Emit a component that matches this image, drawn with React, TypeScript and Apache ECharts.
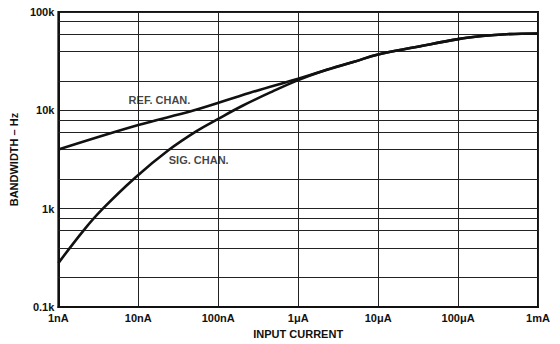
import React, { useEffect, useRef } from "react";
import * as echarts from "echarts";

const xTickLabels: Record<string, string> = {
  "-9": "1nA",
  "-8": "10nA",
  "-7": "100nA",
  "-6": "1\u03bcA",
  "-5": "10\u03bcA",
  "-4": "100\u03bcA",
  "-3": "1mA",
};
const yTickLabels: Record<string, string> = {
  "2": "0.1k",
  "3": "1k",
  "4": "10k",
  "5": "100k",
};

// input current (A) and bandwidth (Hz)
const refCurrent = [1e-9, 1e-8, 5e-8, 2.5e-7, 1e-6, 2e-6, 5e-6, 1e-5, 3e-5, 1e-4, 2e-4, 4e-4, 1e-3];
const refBandwidth = [4000, 7100, 10000, 15100, 21000, 25000, 31200, 37000, 44000, 53000, 57000, 59500, 60500];

const sigCurrent = [1e-9, 2.06e-9, 3.55e-9, 9.2e-9, 2.4e-8, 5.35e-8, 1e-7, 2.04e-7, 4.8e-7, 1e-6, 2e-6, 5e-6, 1e-5, 3e-5, 1e-4, 2e-4, 4e-4, 1e-3];
const sigBandwidth = [280, 600, 990, 2080, 3950, 6150, 8200, 11200, 15600, 20300, 25000, 31200, 37000, 44000, 53000, 57000, 59500, 60500];

const minorGridValues = [
  200, 400, 600, 800,
  2000, 4000, 6000, 8000,
  20000, 40000, 60000, 80000,
];

const annotations = [
  { name: "REF. CHAN.", x: 1.84e-8, y: 12600 },
  { name: "SIG. CHAN.", x: 5.7e-8, y: 3100 },
];

const FONT = "'Liberation Sans', Arial, sans-serif";

export default function App() {
  const ref = useRef<HTMLDivElement>(null);
  useEffect(() => {
    if (!ref.current) return;
    const chart = echarts.init(ref.current, undefined, { renderer: "svg" });
    const lineStyle = { color: "#111", width: 2.6 };
    chart.setOption({
      animation: false,
      backgroundColor: "#fff",
      grid: {
        left: 54,
        right: 22,
        top: 12,
        bottom: 31,
        show: true,
        borderColor: "#111",
        borderWidth: 2,
      },
      xAxis: {
        type: "log",
        logBase: 10,
        min: 1e-9,
        max: 1e-3,
        name: "INPUT CURRENT",
        nameLocation: "middle",
        nameGap: 17,
        nameTextStyle: { fontFamily: FONT, fontWeight: "bold", fontSize: 11, color: "#111" },
        axisLine: { show: true, lineStyle: { color: "#111", width: 2 } },
        axisTick: { show: false },
        axisLabel: {
          fontFamily: FONT,
          fontWeight: "bold",
          fontSize: 11,
          color: "#111",
          margin: 5,
          formatter: (v: number) => xTickLabels[String(Math.round(Math.log10(v)))] ?? "",
        },
        splitLine: { show: true, lineStyle: { color: "#222", width: 1 } },
      },
      yAxis: {
        type: "log",
        logBase: 10,
        min: 100,
        max: 100000,
        name: "BANDWIDTH \u2013 Hz",
        nameLocation: "middle",
        nameGap: 31,
        nameTextStyle: { fontFamily: FONT, fontWeight: "bold", fontSize: 11, color: "#111" },
        axisLine: { show: true, lineStyle: { color: "#111", width: 2 } },
        axisTick: { show: false },
        axisLabel: {
          fontFamily: FONT,
          fontWeight: "bold",
          fontSize: 11,
          color: "#111",
          margin: 4,
          formatter: (v: number) => yTickLabels[String(Math.round(Math.log10(v)))] ?? "",
        },
        splitLine: { show: true, lineStyle: { color: "#222", width: 1 } },
      },
      series: [
        {
          type: "line",
          name: "grid",
          data: [],
          silent: true,
          markLine: {
            silent: true,
            symbol: "none",
            label: { show: false },
            lineStyle: { color: "#222", width: 1, type: "solid" },
            data: minorGridValues.map((v) => ({ yAxis: v })),
          },
        },
        {
          type: "line",
          name: "REF. CHAN.",
          data: refCurrent.map((c, i) => [c, refBandwidth[i]]),
          smooth: 0.4,
          showSymbol: false,
          symbol: "none",
          lineStyle,
          z: 5,
        },
        {
          type: "line",
          name: "SIG. CHAN.",
          data: sigCurrent.map((c, i) => [c, sigBandwidth[i]]),
          smooth: 0.4,
          showSymbol: false,
          symbol: "none",
          lineStyle,
          z: 5,
        },
        {
          type: "scatter",
          name: "labels",
          symbolSize: 0,
          silent: true,
          data: annotations.map((a) => ({ value: [a.x, a.y], name: a.name })),
          label: {
            show: true,
            position: "inside",
            formatter: (p: any) => p.name,
            fontFamily: FONT,
            fontWeight: "bold",
            fontSize: 11,
            color: "#111",
          },
          z: 6,
        },
      ],
    });
    return () => chart.dispose();
  }, []);
  return (
    <div
      ref={ref}
      style={{ position: "fixed", left: 0, top: 0, width: 560, height: 344 }}
    />
  );
}
